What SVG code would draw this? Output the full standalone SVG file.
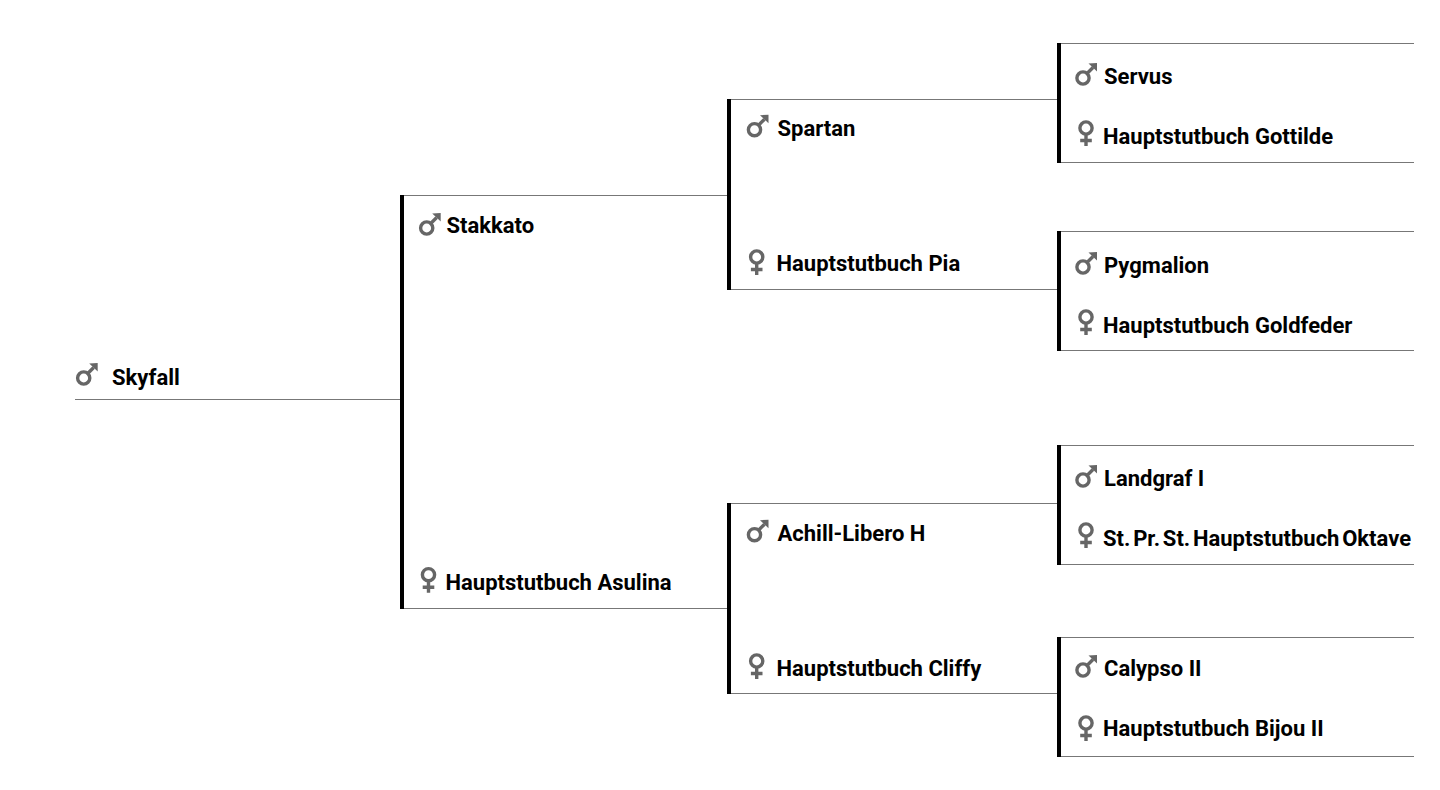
<svg xmlns="http://www.w3.org/2000/svg" width="1440" height="790" viewBox="0 0 1440 790">
<style>
text{font-family:Roboto,"Liberation Sans",sans-serif;font-weight:700;font-size:22px;fill:#000}
.h{stroke:#777;stroke-width:1;fill:none}
.v{stroke:#000;stroke-width:4;fill:none}
.g{stroke:#666;stroke-width:3.400;fill:none}
.a{fill:#666}
</style>
<defs>
<g id="m"><circle cx="0" cy="0" r="6.100" class="g"/><path d="M4-4.500L10-10.500" class="g"/><path d="M5.500-14.500L14-15V-6.500Z" class="a"/></g>
<g id="f"><circle cx="0" cy="0" r="6.100" class="g"/><path d="M0 7V18M-5.800 12.500H5.800" class="g"/></g>
</defs>
<g id="connectors">
<path class="h" d="M75 399.500H401M401 195.500H729M401 608.500H729M729 99.500H1058M729 289.500H1058M729 503.500H1058M729 693.500H1058M1058 43.500H1414M1058 162.500H1414M1058 231.500H1414M1058 350.500H1414M1058 445.500H1414M1058 564.500H1414M1058 637.500H1414M1058 756.500H1414"/>
<path class="v" d="M402 195V609M729 99V290M729 503V694M1059 43V163M1059 231V351M1059 445V565M1059 637V757"/>
</g>
<g id="n1"><use href="#m" x="83.700" y="378"/><text x="112" y="385">Skyfall</text></g>
<g id="n2"><use href="#m" x="426.700" y="228"/><text x="446.500" y="233">Stakkato</text></g>
<g id="n3"><use href="#f" x="428.500" y="574.700"/><text x="445.500" y="590">Hauptstutbuch Asulina</text></g>
<g id="n4"><use href="#m" x="754.500" y="129.700"/><text x="777.500" y="136">Spartan</text></g>
<g id="n5"><use href="#f" x="756.700" y="257"/><text x="776.500" y="271">Hauptstutbuch Pia</text></g>
<g id="n6"><use href="#m" x="754.500" y="534.700"/><text x="777.500" y="541">Achill-Libero H</text></g>
<g id="n7"><use href="#f" x="756.700" y="661"/><text x="776.500" y="676">Hauptstutbuch Cliffy</text></g>
<g id="n8"><use href="#m" x="1083" y="78"/><text x="1104" y="84">Servus</text></g>
<g id="n9"><use href="#f" x="1086" y="128"/><text x="1103" y="144">Hauptstutbuch Gottilde</text></g>
<g id="n10"><use href="#m" x="1083" y="267"/><text x="1104" y="273">Pygmalion</text></g>
<g id="n11"><use href="#f" x="1086" y="317"/><text x="1103" y="333">Hauptstutbuch Goldfeder</text></g>
<g id="n12"><use href="#m" x="1083" y="480"/><text x="1104" y="486">Landgraf I</text></g>
<g id="n13"><use href="#f" x="1086" y="530"/><text x="1103" y="546" word-spacing="-2.700">St. Pr. St. Hauptstutbuch Oktave</text></g>
<g id="n14"><use href="#m" x="1083" y="670"/><text x="1104" y="676">Calypso II</text></g>
<g id="n15"><use href="#f" x="1086" y="723"/><text x="1103" y="736">Hauptstutbuch Bijou II</text></g>
</svg>
